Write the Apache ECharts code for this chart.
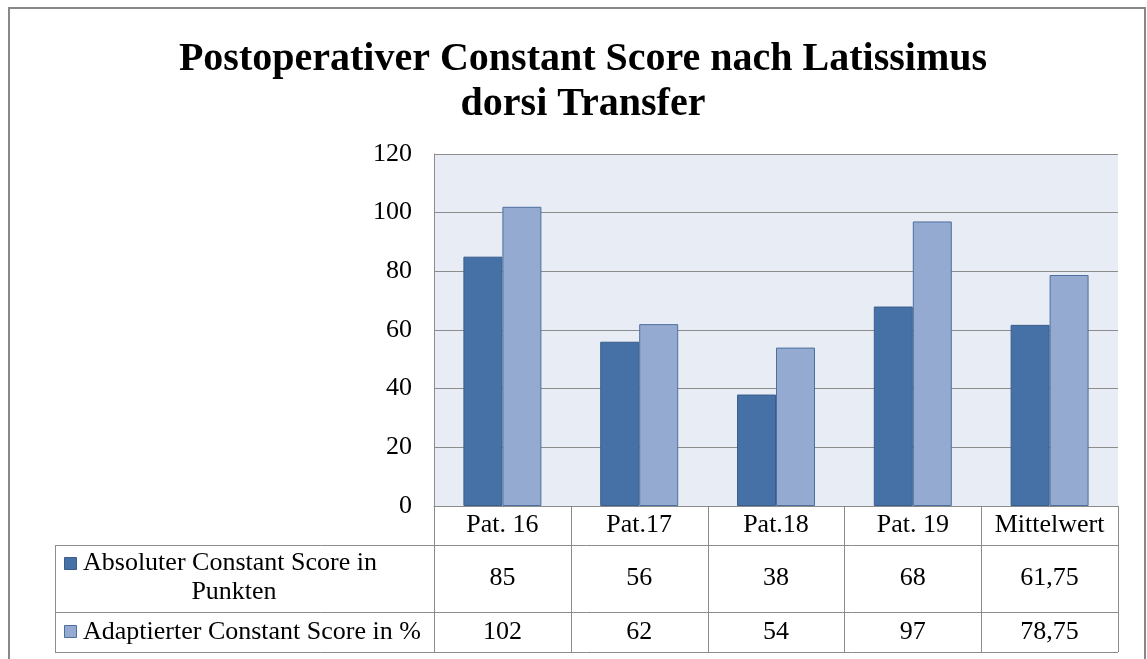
<!DOCTYPE html>
<html>
<head>
<meta charset="utf-8">
<script src="https://cdn.jsdelivr.net/npm/echarts@6/dist/echarts.min.js"></script>
<style>
html,body{margin:0;padding:0;background:#fff;}
#c{width:1147px;height:659px;}
</style>
</head>
<body>
<div id="c"></div>
<script>
const categories = ['Pat. 16', 'Pat.17', 'Pat.18', 'Pat. 19', 'Mittelwert'];
const absoluteScore = [85, 56, 38, 68, 61.75];
const adaptedScore = [102, 62, 54, 97, 78.75];
const absoluteLabels = ['85', '56', '38', '68', '61,75'];
const adaptedLabels = ['102', '62', '54', '97', '78,75'];
const seriesNames = ['Absoluter Constant Score in Punkten', 'Adaptierter Constant Score in %'];
const yTicks = {min: 0, max: 120, interval: 20};

const FONT = '"Liberation Serif", "Times New Roman", serif';
const GRAY = '#8c8c8c';
const DARK = '#4571A7';
const DARK_BORDER = '#3A5E8C';
const LIGHT = '#95AAD1';
const LIGHT_BORDER = '#4C6F9F';
const FS = 26;

const chart = echarts.init(document.getElementById('c'), null, {renderer: 'canvas'});

const option = {
  animation: false,
  backgroundColor: '#fff',
  title: {
    text: 'Postoperativer Constant Score nach Latissimus\ndorsi Transfer',
    left: 578, top: 32, textAlign: 'center',
    textStyle: {fontFamily: FONT, fontWeight: 'bold', fontSize: 40, lineHeight: 45, color: '#000'}
  },
  grid: {
    left: 434, right: 29, top: 154, bottom: 153,
    show: true, backgroundColor: '#E8ECF4', borderWidth: 0
  },
  xAxis: {
    type: 'category', data: categories,
    axisLine: {show: true, lineStyle: {color: GRAY, width: 1}},
    axisTick: {show: false},
    axisLabel: {fontFamily: FONT, fontSize: FS, color: '#000', margin: 19, verticalAlign: 'middle', interval: 0}
  },
  yAxis: {
    type: 'value', min: yTicks.min, max: yTicks.max, interval: yTicks.interval,
    axisLine: {show: true, lineStyle: {color: GRAY, width: 1}},
    axisTick: {show: false},
    splitLine: {show: true, lineStyle: {color: GRAY, width: 1}},
    axisLabel: {fontFamily: FONT, fontSize: FS, color: '#000', margin: 22}
  },
  series: [
    {name: seriesNames[0], type: 'bar', data: absoluteScore, barGap: '0%', barCategoryGap: '43%',
     itemStyle: {color: DARK, borderColor: DARK_BORDER, borderWidth: 1}},
    {name: seriesNames[1], type: 'bar', data: adaptedScore, barGap: '0%', barCategoryGap: '43%',
     itemStyle: {color: LIGHT, borderColor: LIGHT_BORDER, borderWidth: 1}}
  ]
};
chart.setOption(option);

// Build the data table below the plot from the axis scales
const c0 = chart.convertToPixel({xAxisIndex: 0}, categories[0]);
const c1 = chart.convertToPixel({xAxisIndex: 0}, categories[1]);
const band = c1 - c0;
const yBase = chart.convertToPixel({yAxisIndex: 0}, 0);
const plotLeft = c0 - band / 2;
const plotRight = plotLeft + band * categories.length;
const tableLeft = 55;
const headerBottom = yBase + 39;
const row1Bottom = headerBottom + 67;
const row2Bottom = row1Bottom + 40;

const g = [];
const line = (x1, y1, x2, y2) => g.push({type: 'line', shape: {x1, y1, x2, y2}, style: {stroke: GRAY, lineWidth: 1}, silent: true});
// outer frame
g.push({type: 'polyline', shape: {points: [[9, 670], [9, 8], [1145, 8], [1145, 670]]}, style: {stroke: '#888', lineWidth: 2, fill: null}, silent: true});
// vertical lines
for (let i = 0; i <= categories.length; i++) {
  const x = Math.round(plotLeft + band * i) + 0.5;
  line(x, yBase, x, row2Bottom);
}
line(tableLeft + 0.5, headerBottom, tableLeft + 0.5, row2Bottom);
line(tableLeft, Math.round(headerBottom) + 0.5, plotRight, Math.round(headerBottom) + 0.5);
line(tableLeft, Math.round(row1Bottom) + 0.5, plotRight, Math.round(row1Bottom) + 0.5);
line(tableLeft, Math.round(row2Bottom) + 0.5, plotRight, Math.round(row2Bottom) + 0.5);

const txt = (x, y, text, align) => g.push({type: 'text', x, y, silent: true,
  style: {text, fontFamily: FONT, fontSize: FS, fill: '#000', align: align || 'center', verticalAlign: 'middle'}});
const r1y = (headerBottom + row1Bottom) / 2;
const r2y = (row1Bottom + row2Bottom) / 2;
categories.forEach((c, i) => {
  const cx = chart.convertToPixel({xAxisIndex: 0}, c);
  txt(cx, r1y, absoluteLabels[i]);
  txt(cx, r2y, adaptedLabels[i]);
});
// legend keys + names
g.push({type: 'rect', shape: {x: 64.5, y: 557.5, width: 12, height: 12}, style: {fill: DARK, stroke: DARK_BORDER, lineWidth: 1}, silent: true});
g.push({type: 'rect', shape: {x: 64.5, y: 625.5, width: 12, height: 12}, style: {fill: LIGHT, stroke: LIGHT_BORDER, lineWidth: 1}, silent: true});
txt(83, r1y - 15, 'Absoluter Constant Score in', 'left');
txt(234, r1y + 14, 'Punkten', 'center');
txt(83, r2y, seriesNames[1], 'left');

chart.setOption({graphic: g});
</script>
</body>
</html>
